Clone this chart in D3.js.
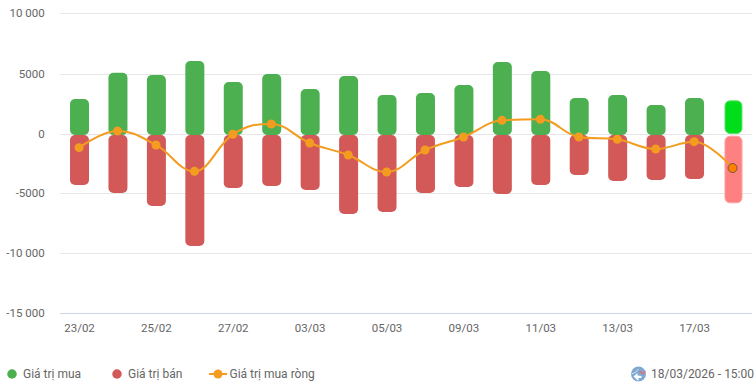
<!DOCTYPE html>
<html>
<head>
<meta charset="utf-8">
<script src="https://cdn.jsdelivr.net/npm/d3@7"></script>
<style>
  body { margin: 0; background: #fff; }
  svg { display: block; font-family: Roboto, sans-serif; }
</style>
</head>
<body>
<svg width="756" height="390"></svg>
<script>
const categories = ["23/02", "24/02", "25/02", "26/02", "27/02", "02/03", "03/03", "04/03", "05/03",
  "06/03", "09/03", "10/03", "11/03", "12/03", "13/03", "16/03", "17/03", "18/03"];
const buyValues = [2940, 5130, 4940, 6100, 4360, 5020, 3770, 4860, 3275,
  3440, 4100, 6020, 5270, 3020, 3275, 2440, 3020, 2830];
const sellValues = [-4225, -4890, -5975, -9310, -4475, -4310, -4640, -6640, -6475,
  -4890, -4390, -4975, -4225, -3390, -3890, -3810, -3725, -5750];
const netValues = [-1115, 275, -890, -3085, 0, 860, -725, -1725, -3140,
  -1310, -225, 1165, 1250, -225, -420, -1225, -615, -2810];
const yTicks = [10000, 5000, 0, -5000, -10000, -15000];
const yTickLabels = ["10 000", "5000", "0", "-5000", "-10 000", "-15 000"];
const xTickLabels = ["23/02", "25/02", "27/02", "03/03", "05/03", "09/03", "11/03", "13/03", "17/03"];
const legendDate = "18/03/2026 - 15:00";

const canvas = d3.select("svg");
const paddingLeft = 60.3;
const plotRight = 752.2;
const barWidth = 19;
const lastIndex = categories.length - 1;

const green = "#4caf50";
const red = "#d35959";
const orange = "#f39c1f";
const textColor = "#666666";

const xScale = d3.scaleBand().domain(categories).range([paddingLeft, plotRight]);
const yScale = d3.scaleLinear().domain([-15000, 10000]).range([314.3, 14.3]);
// the grid sits on whole pixels, a bit off from the bars
const gridScale = yScale.copy().range([313.5, 13.5]);
const xCenter = (c) => xScale(c) + xScale.bandwidth() / 2;

// grid lines and y labels
const yAxis = d3.axisLeft(gridScale)
  .offset(0)
  .tickValues(yTicks)
  .tickFormat((d) => yTickLabels[yTicks.indexOf(d)])
  .tickSize(-(plotRight - paddingLeft))
  .tickPadding(15.6);

const yG = canvas.append("g")
  .attr("transform", `translate(${paddingLeft}, 0)`)
  .call(yAxis);
yG.select(".domain").remove();
yG.selectAll(".tick")
  .filter((d) => d === 5000 || d === 0)
  .attr("transform", (d) => `translate(0, ${gridScale(d) + 1})`);
yG.selectAll("line").attr("stroke", "#e6e6e6");
yG.selectAll("text").attr("font-size", 11.5).attr("font-family", "Roboto").attr("fill", textColor);

const xAxis = d3.axisBottom(xScale)
  .offset(0)
  .tickValues(xTickLabels)
  .tickSize(0)
  .tickPadding(10);

const xG = canvas.append("g")
  .attr("transform", `translate(0, ${gridScale(-15000)})`)
  .call(xAxis);
xG.select(".domain").attr("stroke", "#ccd6eb");
xG.selectAll("text").attr("font-size", 11.5).attr("font-family", "Roboto").attr("fill", textColor);

// bars, the last day is drawn hovered
const isLast = (i) => i === lastIndex;
const barLeft = (i) => xCenter(categories[i]) + (isLast(i) ? -8 : -barWidth / 2);
const barSize = (i) => (isLast(i) ? 17 : barWidth);

canvas.append("g")
  .selectAll("rect")
  .data(buyValues)
  .enter()
  .append("rect")
  .attr("x", (d, i) => barLeft(i))
  .attr("y", (d, i) => yScale(d) + (isLast(i) ? 0.5 : 0))
  .attr("width", (d, i) => barSize(i))
  .attr("height", (d, i) => yScale(0) - yScale(d) + (isLast(i) ? -1.3 : 0.7))
  .attr("rx", 5)
  .attr("fill", (d, i) => (isLast(i) ? "#00dd1b" : green))
  .attr("stroke", (d, i) => (isLast(i) ? "#5ce56e" : "none"));

canvas.append("g")
  .selectAll("rect")
  .data(sellValues)
  .enter()
  .append("rect")
  .attr("x", (d, i) => barLeft(i))
  .attr("y", (d, i) => yScale(0) + (isLast(i) ? 1.9 : 0.7))
  .attr("width", (d, i) => barSize(i))
  .attr("height", (d, i) => yScale(d) - yScale(0) - (isLast(i) ? 2.4 : 0.7))
  .attr("rx", 5)
  .attr("fill", (d, i) => (isLast(i) ? "#ff8080" : red))
  .attr("stroke", (d, i) => (isLast(i) ? "#ffa0a0" : "none"));

// same smoothing as a highcharts spline
function splinePath(points) {
  const path = d3.path();
  const control = (i) => {
    const [x, y] = points[i];
    if (i === 0 || i === points.length - 1) {
      return [x, y, x, y];
    }
    const [px, py] = points[i - 1];
    const [nx, ny] = points[i + 1];
    const leftX = (1.5 * x + px) / 2.5;
    let leftY = (1.5 * y + py) / 2.5;
    const rightX = (1.5 * x + nx) / 2.5;
    let rightY = (1.5 * y + ny) / 2.5;
    const correction = ((rightY - leftY) * (rightX - x)) / (rightX - leftX) + y - rightY;
    leftY += correction;
    rightY += correction;
    if (leftY > py && leftY > y) {
      leftY = Math.max(py, y);
      rightY = 2 * y - leftY;
    } else if (leftY < py && leftY < y) {
      leftY = Math.min(py, y);
      rightY = 2 * y - leftY;
    }
    if (rightY > ny && rightY > y) {
      rightY = Math.max(ny, y);
      leftY = 2 * y - rightY;
    } else if (rightY < ny && rightY < y) {
      rightY = Math.min(ny, y);
      leftY = 2 * y - rightY;
    }
    return [leftX, leftY, rightX, rightY];
  };
  path.moveTo(points[0][0], points[0][1]);
  for (let i = 1; i < points.length; i++) {
    const a = control(i - 1);
    const b = control(i);
    path.bezierCurveTo(a[2], a[3], b[0], b[1], points[i][0], points[i][1]);
  }
  return path.toString();
}

const netPoints = netValues.map((d, i) => [xCenter(categories[i]) - 0.4, yScale(d)]);

canvas.append("path")
  .attr("d", splinePath(netPoints))
  .attr("fill", "none")
  .attr("stroke", orange)
  .attr("stroke-width", 2);

canvas.append("g")
  .selectAll("circle")
  .data(netValues)
  .enter()
  .append("circle")
  .attr("cx", (d, i) => netPoints[i][0])
  .attr("cy", (d) => yScale(d))
  .attr("r", 4.5)
  .attr("fill", (d, i) => (isLast(i) ? "#ff7f00" : orange))
  .attr("stroke", (d, i) => (isLast(i) ? "#6b5a45" : "none"));

// legend
const legendY = 374;
const legend = canvas.append("g").attr("font-size", 12).attr("fill", textColor);

legend.append("circle").attr("cx", 12).attr("cy", legendY).attr("r", 4.75).attr("fill", green);
legend.append("text").attr("x", 23).attr("y", legendY + 4).text("Giá trị mua");

legend.append("circle").attr("cx", 117).attr("cy", legendY).attr("r", 4.75).attr("fill", red);
legend.append("text").attr("x", 128).attr("y", legendY + 4).text("Giá trị bán");

legend.append("line").attr("x1", 209).attr("x2", 227).attr("y1", legendY).attr("y2", legendY)
  .attr("stroke", orange).attr("stroke-width", 2);
legend.append("circle").attr("cx", 218).attr("cy", legendY).attr("r", 4.5).attr("fill", orange);
legend.append("text").attr("x", 229.5).attr("y", legendY + 4).text("Giá trị mua ròng");

legend.append("text").attr("x", 651).attr("y", legendY + 4).text(legendDate);

// refresh icon next to the date
const icon = canvas.append("g").attr("transform", `translate(638.5, ${legendY})`);
icon.append("circle").attr("r", 7.5).attr("fill", "#7fa9d2");
icon.append("path").attr("d", "M-7 0 Q-2 -1 0 -5").attr("fill", "none").attr("stroke", "#cfe0f0").attr("stroke-width", 1);
icon.append("path").attr("d", "M-5 2.5 L-1 -1 L-1 1.5 L3 2 L3 4 L0 4 L0 7 Z").attr("fill", "#fff");
icon.append("path").attr("d", "M1 -3 L4 -0.5 L7 -2.5").attr("fill", "none").attr("stroke", "#e0727a").attr("stroke-width", 1.5);
</script>
</body>
</html>
